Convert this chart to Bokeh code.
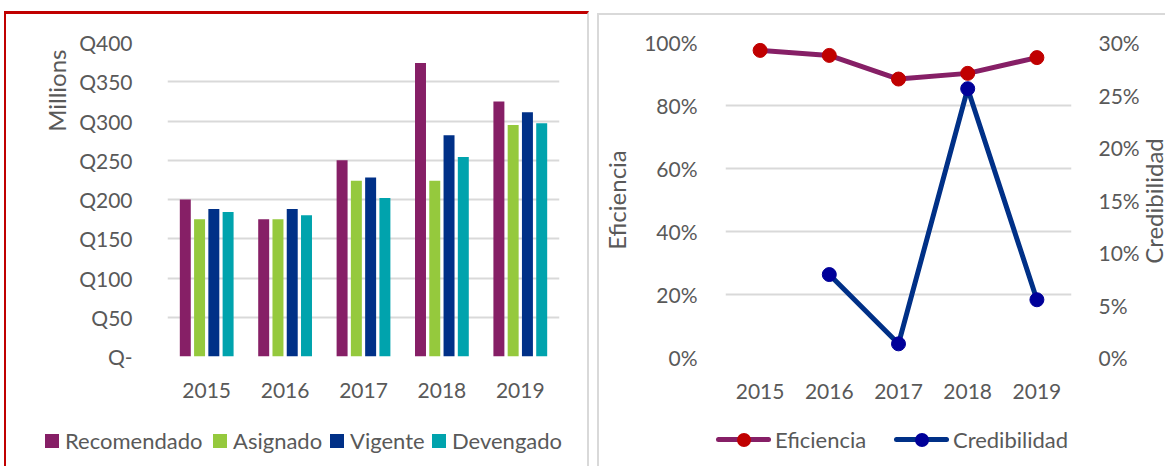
from math import nan
from bokeh.plotting import figure
from bokeh.models import (FactorRange, Range1d, LinearAxis, Title, Spacer, Div,
                          ColumnDataSource, FixedTicker, NumeralTickFormatter)
from bokeh.transform import dodge
from bokeh.layouts import row, column
from bokeh.embed import file_html
from bokeh.resources import INLINE

# ---------------- data ----------------
years = ["2015", "2016", "2017", "2018", "2019"]
recomendado = [200, 175, 250, 374, 325]
asignado = [175, 175, 224, 224, 295]
vigente = [188, 188, 228, 282, 311]
devengado = [184, 180, 202, 254, 297]
bar_series = ["Recomendado", "Asignado", "Vigente", "Devengado"]
bar_colors = ["#861F66", "#95C93D", "#003087", "#00A3AD"]
q_ticks = [0, 50, 100, 150, 200, 250, 300, 350, 400]
q_labels = ["Q-", "Q50", "Q100", "Q150", "Q200", "Q250", "Q300", "Q350", "Q400"]

eficiencia = [0.975, 0.959, 0.884, 0.902, 0.952]
credibilidad = [nan, 0.079, 0.013, 0.256, 0.055]
line_series = ["Eficiencia", "Credibilidad"]
line_colors = ["#861F66", "#003087"]
marker_colors = ["#C00000", "#000099"]
ef_ticks = [0, 0.2, 0.4, 0.6, 0.8, 1.0]
cred_ticks = [0, 0.05, 0.10, 0.15, 0.20, 0.25, 0.30]

FONT = "Lato"
FS = "21px"
TITLE_FS = "24px"
LEG_FS = "22px"
TXT = "#595959"
GRID = "#D9D9D9"
RED = "#C00000"


def clean(fig):
    fig.outline_line_color = None
    fig.border_fill_color = None
    fig.background_fill_color = None


def style_axis(ax):
    ax.axis_line_color = None
    ax.major_tick_line_color = None
    ax.minor_tick_line_color = None
    ax.major_label_text_font = FONT
    ax.major_label_text_font_size = FS
    ax.major_label_text_color = TXT
    ax.axis_label_text_font = FONT
    ax.axis_label_text_font_size = TITLE_FS
    ax.axis_label_text_color = TXT
    ax.axis_label_text_font_style = "normal"


# ---------------- left chart ----------------
src = ColumnDataSource(dict(year=years, Recomendado=recomendado, Asignado=asignado,
                            Vigente=vigente, Devengado=devengado))

p1 = figure(x_range=FactorRange(*years), y_range=Range1d(0, 400),
            width=585, height=392, output_backend="svg", toolbar_location=None,
            min_border_left=161, min_border_right=32, min_border_top=28, min_border_bottom=50)
clean(p1)
p1.styles = {"border-top": "3px solid " + RED, "border-left": "2px solid " + RED,
             "border-right": "2px solid " + GRID, "box-sizing": "border-box"}

offsets = [-0.273, -0.091, 0.091, 0.273]
for name, col, off in zip(bar_series, bar_colors, offsets):
    p1.vbar(x=dodge("year", off, range=p1.x_range), top=name, width=0.14,
            source=src, fill_color=col, line_color=None)

p1.xgrid.grid_line_color = None
p1.ygrid.ticker = FixedTicker(ticks=q_ticks)
p1.ygrid.grid_line_color = GRID
p1.ygrid.grid_line_width = 2
p1.yaxis.ticker = FixedTicker(ticks=q_ticks)
p1.yaxis.major_label_overrides = {t: l for t, l in zip(q_ticks, q_labels)}
style_axis(p1.xaxis[0])
style_axis(p1.yaxis[0])
p1.yaxis.major_label_standoff = 29
p1.xaxis.major_label_standoff = 20
p1.add_layout(Title(text="Millions", align="right", offset=7, standoff=11,
                    text_font=FONT, text_font_size=TITLE_FS, text_color=TXT,
                    text_font_style="normal"), "left")

# legend strip for the bars (HTML)
bar_leg_x = [39, 207, 324, 426]
parts = []
for name, col, x in zip(bar_series, bar_colors, bar_leg_x):
    parts.append(
        f'<div style="position:absolute;left:{x}px;top:24px;height:27px;display:flex;'
        f'align-items:center;white-space:nowrap">'
        f'<span style="display:inline-block;width:14px;height:14px;background:{col};'
        f'margin-right:6px"></span>{name}</div>')
html1 = (f'<div style="position:relative;width:581px;height:63px;font-family:{FONT};'
         f'font-size:{LEG_FS};color:{TXT};line-height:27px">' + "".join(parts) + '</div>')
l1 = Div(text=html1, width=585, height=63, margin=0,
         styles={"box-sizing": "border-box", "border-left": "2px solid " + RED,
                 "border-right": "2px solid " + GRID})

# ---------------- right chart ----------------
p2 = figure(x_range=FactorRange(*years), y_range=Range1d(0, 1),
            width=545, height=392, output_backend="svg", toolbar_location=None,
            min_border_left=119, min_border_right=73, min_border_top=27, min_border_bottom=50)
clean(p2)
p2.styles = {"border-top": "2px solid " + GRID, "border-left": "2px solid " + GRID,
             "box-sizing": "border-box"}
p2.extra_y_ranges = {"cred": Range1d(0, 0.3)}

p2.line(years, credibilidad, y_range_name="cred", line_width=5,
        line_color=line_colors[1], line_join="round")
p2.scatter(years, credibilidad, y_range_name="cred", size=14,
           fill_color=marker_colors[1], line_color=marker_colors[1])
p2.line(years, eficiencia, line_width=5, line_color=line_colors[0], line_join="round")
p2.scatter(years, eficiencia, size=14, fill_color=marker_colors[0], line_color=marker_colors[0])

p2.xgrid.grid_line_color = None
p2.ygrid.ticker = FixedTicker(ticks=ef_ticks)
p2.ygrid.grid_line_color = GRID
p2.ygrid.grid_line_width = 2
p2.yaxis.ticker = FixedTicker(ticks=ef_ticks)
p2.yaxis.formatter = NumeralTickFormatter(format="0%")
ax_r = LinearAxis(y_range_name="cred", ticker=FixedTicker(ticks=cred_ticks),
                  formatter=NumeralTickFormatter(format="0%"))
p2.add_layout(ax_r, "right")
for ax in (p2.xaxis[0], p2.yaxis[0], ax_r):
    style_axis(ax)
p2.yaxis[0].major_label_standoff = 22
p2.yaxis[0].axis_label = "Eficiencia"
p2.yaxis[0].axis_label_standoff = 10
ax_r.major_label_standoff = 21
p2.xaxis.major_label_standoff = 20

# right axis title (vertical, reading bottom-to-top)
cred_title = Div(
    text=(f'<div style="position:relative;width:23px;height:392px">'
          f'<div style="position:absolute;left:12px;top:186px;white-space:nowrap;'
          f'transform:translate(-50%,-50%) rotate(-90deg);font-family:{FONT};'
          f'font-size:{TITLE_FS};color:{TXT};line-height:22px">Credibilidad</div></div>'),
    width=23, height=392, margin=0,
    styles={"box-sizing": "border-box", "border-top": "2px solid " + GRID})

# legend strip for the lines (HTML)
line_leg_x = [117, 295]
parts = []
for name, lc, mc, x in zip(line_series, line_colors, marker_colors, line_leg_x):
    parts.append(
        f'<div style="position:absolute;left:{x}px;top:21px;height:27px;display:flex;'
        f'align-items:center;white-space:nowrap">'
        f'<span style="position:relative;display:inline-block;width:55px;height:14px;'
        f'margin-right:4px">'
        f'<span style="position:absolute;left:0;top:4.5px;width:55px;height:5px;'
        f'background:{lc};border-radius:2.5px"></span>'
        f'<span style="position:absolute;left:20.5px;top:0;width:14px;height:14px;'
        f'border-radius:50%;background:{mc}"></span></span>{name}</div>')
html2 = (f'<div style="position:relative;width:565px;height:61px;font-family:{FONT};'
         f'font-size:{LEG_FS};color:{TXT};line-height:27px">' + "".join(parts) + '</div>')
l2 = Div(text=html2, width=567, height=61, margin=0,
         styles={"box-sizing": "border-box", "border-left": "2px solid " + GRID})

layout = column(Spacer(height=11),
                row(Spacer(width=4), column(p1, l1), Spacer(width=8),
                    column(Spacer(height=2), row(p2, cred_title), l2)))
open("out.html", "w").write(file_html(layout, INLINE))
